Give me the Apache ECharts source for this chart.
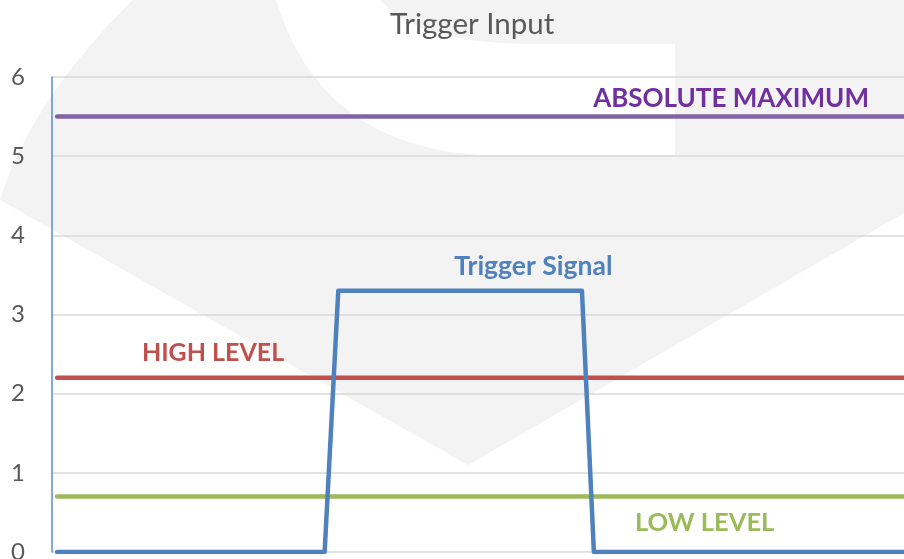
<!DOCTYPE html>
<html>
<head>
<meta charset="utf-8">
<script src="https://cdn.jsdelivr.net/npm/echarts@6/dist/echarts.min.js"></script>
<style>
  html, body { margin: 0; padding: 0; }
  #chart { width: 904px; height: 559px; }
</style>
</head>
<body>
<div id="chart"></div>
<script>
// time positions (arbitrary units, 0..100 across the plot)
var timeAxis = [0.6, 32, 33.6, 62.2, 63.6, 100];
var triggerSignal = [0, 0, 3.3, 3.3, 0, 0];

var levelSpan = [0.6, 100];
var absoluteMaximum = [5.5, 5.5];
var highLevel = [2.2, 2.2];
var lowLevel = [0.7, 0.7];

var yTicks = [0, 1, 2, 3, 4, 5, 6];

function pairs(xs, ys) {
    return xs.map(function (x, i) { return [x, ys[i]]; });
}

// sample a quadratic curve into points, for the background watermark
function quad(p0, c, p1) {
    var pts = [];
    for (var i = 0; i <= 20; i++) {
        var t = i / 20, a = (1 - t) * (1 - t), b = 2 * t * (1 - t), d = t * t;
        pts.push([a * p0[0] + b * c[0] + d * p1[0], a * p0[1] + b * c[1] + d * p1[1]]);
    }
    return pts;
}

var font = 'Lato';

function tag(name, coord, color, size) {
    return {
        symbolSize: 0,
        silent: true,
        data: [{ name: name, coord: coord }],
        label: {
            show: true,
            position: 'inside',
            formatter: '{b}',
            color: color,
            fontFamily: font,
            fontWeight: 'bold',
            fontSize: size
        }
    };
}

function levelSeries(name, ys, color, mark) {
    return {
        name: name,
        type: 'line',
        data: pairs(levelSpan, ys),
        showSymbol: false,
        symbol: 'none',
        lineStyle: { color: color, width: 4.5, cap: 'round' },
        markPoint: mark
    };
}

var cornerShape = [[0, 0]].concat(quad([133, 0], [31, 100], [0, 200]));
var holeShape = quad([276, 0], [320, 145], [480, 155])
    .concat([[675, 155], [675, 44]])
    .concat(quad([533, 44], [420, 44], [380, 0]));
var lowerShape = [[0, 200], [468, 465], [904, 213], [904, 559], [0, 559]];

var myChart = echarts.init(document.getElementById('chart'));

myChart.setOption({
    backgroundColor: '#f3f3f3',
    animation: false,
    title: {
        text: 'Trigger Input',
        left: 385,
        top: 4,
        textStyle: {
            fontFamily: font,
            fontWeight: 'normal',
            fontSize: 29.5,
            color: '#595959'
        }
    },
    // faint watermark behind the plot
    graphic: [
        { type: 'polygon', z: -100, silent: true, shape: { points: cornerShape }, style: { fill: '#ffffff' } },
        { type: 'polygon', z: -100, silent: true, shape: { points: holeShape }, style: { fill: '#ffffff' } },
        { type: 'polygon', z: -100, silent: true, shape: { points: lowerShape }, style: { fill: '#ffffff' } }
    ],
    grid: { left: 52, right: 0, top: 77, bottom: 7, outerBoundsMode: 'none', containLabel: false },
    xAxis: {
        type: 'value',
        min: 0,
        max: 100,
        show: false
    },
    yAxis: {
        type: 'value',
        min: yTicks[0],
        max: yTicks[yTicks.length - 1],
        interval: 1,
        axisLine: { show: true, lineStyle: { color: '#5b8bd0', width: 1.5 } },
        axisTick: { show: false },
        axisLabel: {
            margin: 27,
            fontFamily: font,
            fontSize: 24,
            color: '#595959'
        },
        splitLine: { lineStyle: { color: '#d9d9d9', width: 1.5 } }
    },
    series: [
        levelSeries('ABSOLUTE MAXIMUM', absoluteMaximum, '#8064a2',
            tag('ABSOLUTE MAXIMUM', [79.7, 5.73], '#7030a0', 26)),
        levelSeries('HIGH LEVEL', highLevel, '#c0504d',
            tag('HIGH LEVEL', [18.9, 2.51], '#c0504d', 25)),
        levelSeries('LOW LEVEL', lowLevel, '#9bbb59',
            tag('LOW LEVEL', [76.6, 0.37], '#9bbb59', 25.5)),
        {
            name: 'Trigger Signal',
            type: 'line',
            data: pairs(timeAxis, triggerSignal),
            showSymbol: false,
            symbol: 'none',
            lineStyle: { color: '#4f81bd', width: 4.5, cap: 'round', join: 'round' },
            markPoint: tag('Trigger Signal', [56.5, 3.61], '#4f81bd', 26.5)
        }
    ]
});
</script>
</body>
</html>
